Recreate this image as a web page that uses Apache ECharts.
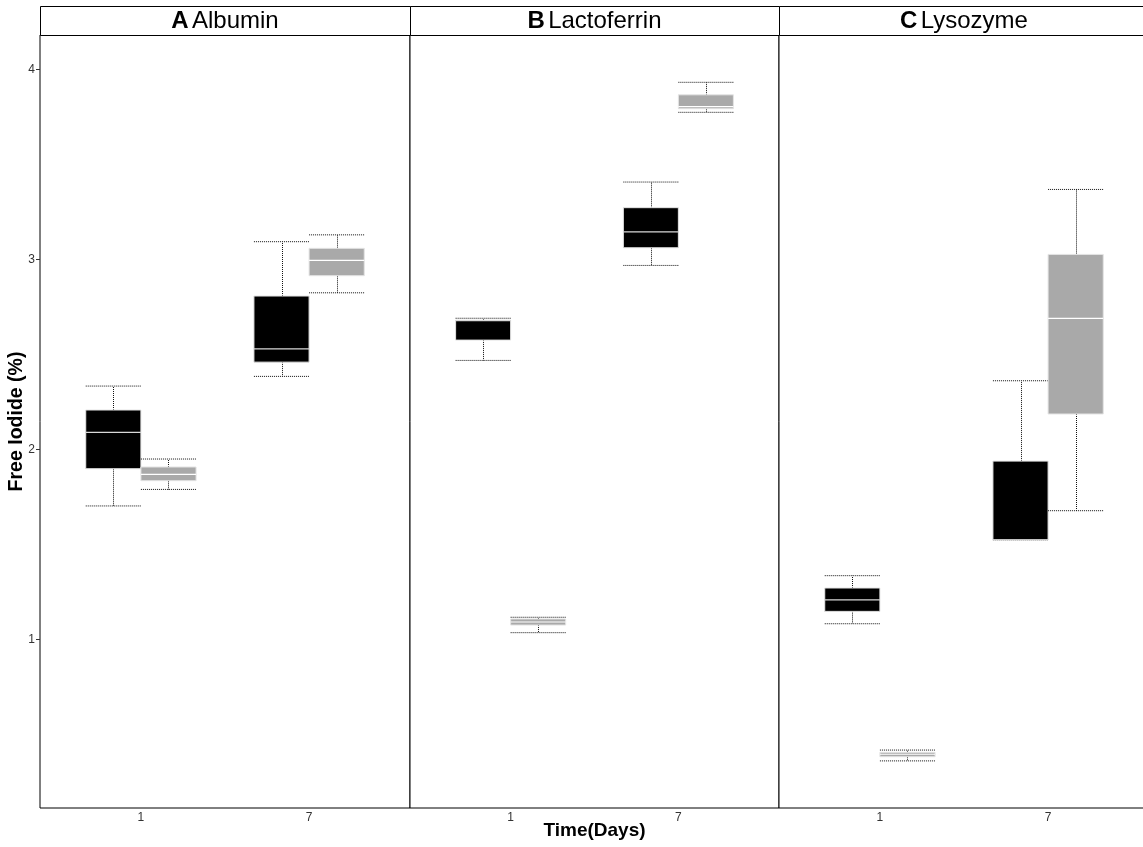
<!DOCTYPE html>
<html>
<head>
<meta charset="utf-8">
<script src="https://cdn.jsdelivr.net/npm/echarts@6/dist/echarts.min.js"></script>
<style>
  html, body { margin: 0; padding: 0; background: #fff; }
  #chart { width: 1143px; height: 847px; }
</style>
</head>
<body>
<div id="chart"></div>
<script>
// Facet labels and axis categories
const panelTags = ['A', 'B', 'C'];
const panelNames = ['Albumin', 'Lactoferrin', 'Lysozyme'];
const days = ['1', '7'];
const yTicks = [1, 2, 3, 4];

// Five-number summaries per day: [min, q1, median, q3, max]
const albuminDark   = [[1.702, 1.898, 2.089, 2.207, 2.333], [2.384, 2.459, 2.529, 2.807, 3.093]];
const albuminLight  = [[1.789, 1.835, 1.868, 1.907, 1.949], [2.824, 2.914, 2.995, 3.058, 3.129]];
const lactoDark     = [[2.468, 2.575, 2.677, 2.680, 2.690], [2.968, 3.061, 3.145, 3.272, 3.407]];
const lactoLight    = [[1.035, 1.075, 1.091, 1.107, 1.116], [3.774, 3.793, 3.804, 3.866, 3.932]];
const lysoDark      = [[1.082, 1.147, 1.208, 1.270, 1.335], [1.523, 1.523, 1.523, 1.938, 2.361]];
const lysoLight     = [[0.360, 0.382, 0.395, 0.405, 0.417], [1.677, 2.186, 2.689, 3.026, 3.368]];

const darkSets = [albuminDark, lactoDark, lysoDark];
const lightSets = [albuminLight, lactoLight, lysoLight];

// Layout of the three facets
const panelLeft = [40, 410, 779];
const panelWidth = 370;
const plotTop = 35;
const plotHeight = 773;
const stripTop = 6;
const yMin = 0.112, yMax = 4.181;
const BOX_W = 0.328; // box width in x-units, two boxes dodged side by side

const FONT = '"Liberation Sans", Arial, Helvetica, sans-serif';

function boxRenderer(side, fill, medianColor) {
  return function (params, api) {
    const x = api.value(0);
    const unit = api.size([1, 0])[0];
    const w = BOX_W * unit;
    const xc = api.coord([x, 0])[0];
    const x0 = side < 0 ? xc - w : xc;
    const cx = Math.round(x0 + w / 2) + 0.5;
    const py = v => api.coord([x, v])[1];
    const yLo = py(api.value(1)), yQ1 = py(api.value(2)), yMed = py(api.value(3));
    const yQ3 = py(api.value(4)), yHi = py(api.value(5));
    const dotted = { stroke: '#111', lineWidth: 1, lineDash: [1, 1] };
    return {
      type: 'group',
      children: [
        { type: 'line', shape: { x1: cx, y1: yQ3, x2: cx, y2: yHi }, style: dotted },
        { type: 'line', shape: { x1: cx, y1: yQ1, x2: cx, y2: yLo }, style: dotted },
        { type: 'line', shape: { x1: x0, y1: yHi, x2: x0 + w, y2: yHi }, style: dotted },
        { type: 'line', shape: { x1: x0, y1: yLo, x2: x0 + w, y2: yLo }, style: dotted },
        { type: 'rect', shape: { x: x0, y: yQ3, width: w, height: Math.max(yQ1 - yQ3, 0.5) },
          style: { fill: fill, stroke: '#e4e4e4', lineWidth: 1 } },
        { type: 'line', shape: { x1: x0, y1: yMed, x2: x0 + w, y2: yMed },
          style: { stroke: medianColor, lineWidth: 1.2 } }
      ]
    };
  };
}

const grids = [], xAxes = [], yAxes = [], series = [], graphics = [];

panelTags.forEach((tag, i) => {
  const w = panelWidth - (i === 1 ? 1 : 0);
  grids.push({
    left: panelLeft[i], top: plotTop, width: w, height: plotHeight,
    outerBoundsMode: 'none',
    show: true, borderColor: '#000', borderWidth: 1, backgroundColor: '#fff'
  });
  xAxes.push({
    type: 'value', gridIndex: i, min: 0.4, max: 2.6,
    axisLine: { show: false }, splitLine: { show: false },
    axisTick: { show: false },
    axisLabel: {
      customValues: days.map((d, k) => k + 1),
      formatter: v => days[Math.round(v) - 1],
      color: '#333', fontSize: 12, fontFamily: FONT, margin: 4
    },
    name: i === 1 ? 'Time(Days)' : '',
    nameLocation: 'middle', nameGap: 13, nameMoveOverlap: false,
    nameTextStyle: { fontSize: 19, fontWeight: 'bold', color: '#000', fontFamily: FONT }
  });
  yAxes.push({
    type: 'value', gridIndex: i, min: yMin, max: yMax,
    splitLine: { show: false },
    axisLine: { show: false },
    axisTick: { show: i === 0, customValues: yTicks, length: 4, lineStyle: { color: '#333' } },
    axisLabel: {
      show: i === 0, customValues: yTicks, color: '#333', fontSize: 12, fontFamily: FONT, margin: 5
    },
    name: i === 0 ? 'Free Iodide (%)' : '',
    nameLocation: 'middle', nameRotate: 90, nameGap: 13, nameMoveOverlap: false,
    nameTextStyle: { fontSize: 19.5, fontWeight: 'bold', color: '#000', fontFamily: FONT }
  });

  const toData = sets => sets.map((s, k) => [k + 1].concat(s));
  series.push({
    type: 'custom', name: 'dark ' + panelNames[i], xAxisIndex: i, yAxisIndex: i,
    renderItem: boxRenderer(-1, '#000000', '#d8d8d8'),
    encode: { x: 0, y: [1, 2, 3, 4, 5] },
    data: toData(darkSets[i]), silent: true
  });
  series.push({
    type: 'custom', name: 'light ' + panelNames[i], xAxisIndex: i, yAxisIndex: i,
    renderItem: boxRenderer(1, '#a9a9a9', '#ffffff'),
    encode: { x: 0, y: [1, 2, 3, 4, 5] },
    data: toData(lightSets[i]), silent: true
  });

  // Facet strip with its label
  graphics.push({
    type: 'rect', z: 10,
    shape: { x: panelLeft[i] + 0.5, y: stripTop + 0.5, width: w, height: plotTop - stripTop },
    style: { fill: '#fff', stroke: '#000', lineWidth: 1 }
  });
  graphics.push({
    type: 'text', z: 11,
    x: panelLeft[i] + w / 2, y: stripTop + (plotTop - stripTop) / 2 + 1,
    style: {
      text: '{b|' + tag + '} {n|' + panelNames[i] + '}',
      align: 'center', verticalAlign: 'middle',
      rich: {
        b: { fontSize: 24, fontWeight: 'bold', fontFamily: FONT, fill: '#000' },
        n: { fontSize: 24, fontFamily: FONT, fill: '#000' }
      }
    }
  });
});

const chart = echarts.init(document.getElementById('chart'), null, { renderer: 'canvas' });
chart.setOption({
  animation: false,
  backgroundColor: '#fff',
  grid: grids,
  xAxis: xAxes,
  yAxis: yAxes,
  series: series,
  graphic: graphics
});
</script>
</body>
</html>
